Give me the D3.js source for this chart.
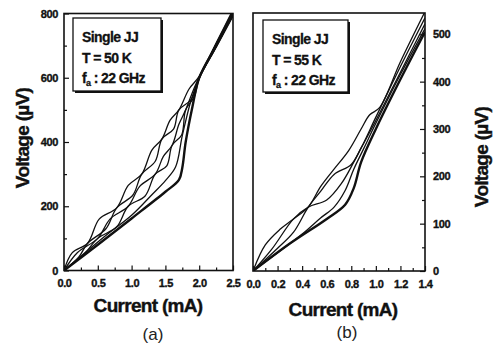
<!DOCTYPE html>
<html lang="en">
<head>
    <meta charset="UTF-8" />
    <title>Single JJ I-V curves</title>
    <script src="https://cdnjs.cloudflare.com/ajax/libs/d3/7.8.5/d3.min.js"></script>
    <style>
        body { margin: 0; padding: 0; background: #fff; }
        svg { display: block; font-family: 'Liberation Sans', Arial, sans-serif; }
        .tick text { font-size: 11px; font-weight: bold; letter-spacing: -0.4px; fill: #111; stroke: #111; stroke-width: 0.35px; }
        .axis-title { font-size: 19px; font-weight: bold; letter-spacing: -0.7px; fill: #111; stroke: #111; stroke-width: 0.4px; }
        .panel-tag { font-size: 17px; fill: #222; }
        .legend text { font-size: 14px; font-weight: bold; letter-spacing: -0.6px; fill: #111; stroke: #111; stroke-width: 0.3px; }
    </style>
</head>
<body>
<svg id="chart" width="500" height="348"></svg>
<script>
    // panel (a): T = 50 K, current in mA, voltage in uV
    const curvesA = [
        // lowest branch (drawn thick)
        [[0,0],[0.5,80],[1.0,162],[1.5,245],[1.7,282],[1.75,320],[1.8,400],[1.9,510],[2.0,600],[2.25,700],[2.5,800]],
        // upper pair
        [[0,0],[0.12,55],[0.35,85],[0.52,160],[0.78,195],[0.95,265],[1.15,300],[1.3,375],[1.45,410],[1.57,468],[1.7,500],[1.85,565],[2.0,604],[2.25,708],[2.5,812]],
        [[0,0],[0.22,42],[0.35,85],[0.62,130],[0.78,195],[1.02,235],[1.15,300],[1.35,340],[1.45,410],[1.62,440],[1.7,500],[1.88,532],[2.0,598],[2.25,694],[2.5,792]],
        // middle pair
        [[0,0],[0.2,56],[0.5,100],[0.68,160],[0.95,200],[1.12,262],[1.35,300],[1.47,355],[1.6,390],[1.7,455],[1.8,500],[1.92,565],[2.0,602],[2.25,705],[2.5,808]],
        [[0,0],[0.3,52],[0.5,100],[0.78,136],[0.95,200],[1.2,232],[1.35,300],[1.52,326],[1.6,390],[1.74,422],[1.8,500],[1.93,542],[2.0,598],[2.25,696],[2.5,796]],
        // lower single
        [[0,0],[0.6,106],[1.0,172],[1.3,236],[1.5,280],[1.65,322],[1.75,420],[1.88,530],[2.0,600],[2.25,702],[2.5,804]]
    ];
    const xTicksA = [0, 0.5, 1.0, 1.5, 2.0, 2.5];
    const xMinorA = [0.25, 0.75, 1.25, 1.75, 2.25];
    const yTicksA = [0, 200, 400, 600, 800];
    const yMinorA = [100, 300, 500, 700];
    const legendA = ["Single JJ", "T = 50 K", "22 GHz"];

    // panel (b): T = 55 K
    const curvesB = [
        [[0,0],[0.3,58],[0.6,110],[0.75,140],[0.82,175],[0.88,230],[1.0,300],[1.2,405],[1.4,505]],
        [[0,0],[0.1,55],[0.22,88],[0.33,110],[0.45,135],[0.55,178],[0.65,212],[0.78,255],[0.88,300],[0.95,330],[1.03,345],[1.2,442],[1.4,548]],
        [[0,0],[0.15,45],[0.33,110],[0.45,135],[0.6,150],[0.72,185],[0.82,230],[0.9,270],[1.0,325],[1.2,432],[1.4,535]],
        [[0,0],[0.2,48],[0.33,82],[0.45,135],[0.55,168],[0.66,204],[0.8,225],[0.88,260],[1.0,318],[1.2,420],[1.4,522]],
        [[0,0],[0.4,78],[0.55,112],[0.66,135],[0.75,170],[0.82,215],[0.9,258],[1.0,312],[1.2,415],[1.4,512]]
    ];
    const xTicksB = [0, 0.2, 0.4, 0.6, 0.8, 1.0, 1.2, 1.4];
    const xMinorB = [0.1, 0.3, 0.5, 0.7, 0.9, 1.1, 1.3];
    const yTicksB = [0, 100, 200, 300, 400, 500];
    const yMinorB = [50, 150, 250, 350, 450];
    const legendB = ["Single JJ", "T = 55 K", "22 GHz"];

    const svg = d3.select("#chart");
    const defs = svg.append("defs");

    function drawPanel(opt) {
        const x = d3.scaleLinear().domain(opt.xDomain).range(opt.xRange);
        const y = d3.scaleLinear().domain(opt.yDomain).range(opt.yRange);
        const g = svg.append("g");

        defs.append("clipPath").attr("id", opt.id)
            .append("rect")
            .attr("x", opt.xRange[0]).attr("y", opt.yRange[1])
            .attr("width", opt.xRange[1] - opt.xRange[0])
            .attr("height", opt.yRange[0] - opt.yRange[1]);

        // curves
        const line = d3.line().x(d => x(d[0])).y(d => y(d[1])).curve(d3.curveCatmullRom.alpha(0.5));
        g.append("g").attr("clip-path", `url(#${opt.id})`)
            .selectAll("path")
            .data(opt.curves)
            .join("path")
            .attr("d", line)
            .attr("fill", "none")
            .attr("stroke", "#111")
            .attr("stroke-width", (d, i) => i === 0 ? 2.4 : 1.3);

        // minor ticks
        g.append("g").attr("transform", `translate(0,${opt.yRange[0]})`)
            .call(d3.axisBottom(x).tickValues(opt.xMinor).tickSize(-3).tickFormat(""));
        // major x ticks
        g.append("g").attr("transform", `translate(0,${opt.yRange[0]})`)
            .call(d3.axisBottom(x).tickValues(opt.xTicks).tickSize(-5).tickPadding(9).tickFormat(d3.format(".1f")));

        const yAx = opt.yRight ? d3.axisRight : d3.axisLeft;
        const yPos = opt.yRight ? opt.xRange[1] : opt.xRange[0];
        g.append("g").attr("transform", `translate(${yPos},0)`)
            .call(yAx(y).tickValues(opt.yMinor).tickSize(-3).tickFormat(""));
        g.append("g").attr("transform", `translate(${yPos},0)`)
            .call(yAx(y).tickValues(opt.yTicks).tickSize(-5).tickPadding(opt.yRight ? 8 : 6).tickFormat(d3.format("d")));

        g.selectAll(".domain").remove();
        g.selectAll(".tick line").attr("stroke", "#111").attr("stroke-width", 1.2);

        // frame
        g.append("rect")
            .attr("x", opt.xRange[0]).attr("y", opt.yRange[1])
            .attr("width", opt.xRange[1] - opt.xRange[0])
            .attr("height", opt.yRange[0] - opt.yRange[1])
            .attr("fill", "none").attr("stroke", "#111").attr("stroke-width", 1.6);

        // legend box with shadow
        const lg = g.append("g").attr("class", "legend");
        const b = opt.box;
        lg.append("rect").attr("x", b[0] + 2).attr("y", b[1] + 2).attr("width", b[2]).attr("height", b[3]).attr("fill", "#111");
        lg.append("rect").attr("x", b[0]).attr("y", b[1]).attr("width", b[2]).attr("height", b[3])
            .attr("fill", "#fff").attr("stroke", "#111").attr("stroke-width", 1.3);
        lg.append("text").attr("x", b[0] + 9).attr("y", b[1] + 24).text(opt.legend[0]);
        lg.append("text").attr("x", b[0] + 9).attr("y", b[1] + 45).text(opt.legend[1]);
        const t3 = lg.append("text").attr("x", b[0] + 9).attr("y", b[1] + 65);
        t3.append("tspan").text("f");
        t3.append("tspan").attr("font-size", "9px").attr("dy", 3).text("a");
        t3.append("tspan").attr("dy", -3).text(" : " + opt.legend[2]);

        // titles
        svg.append("text").attr("class", "axis-title")
            .attr("x", opt.xTitle[0]).attr("y", opt.xTitle[1])
            .attr("text-anchor", "middle").text("Current (mA)");
        svg.append("text").attr("class", "axis-title")
            .attr("transform", `translate(${opt.yTitle[0]},${opt.yTitle[1]}) rotate(-90)`)
            .attr("text-anchor", "middle").text("Voltage (\u00b5V)");
        svg.append("text").attr("class", "panel-tag")
            .attr("x", opt.tag[0]).attr("y", opt.tag[1])
            .attr("text-anchor", "middle").text(opt.tag[2]);
    }

    drawPanel({
        id: "clipA",
        curves: curvesA,
        xDomain: [0, 2.5], xRange: [64, 233],
        yDomain: [0, 800], yRange: [270.5, 13.5],
        xTicks: xTicksA, xMinor: xMinorA, yTicks: yTicksA, yMinor: yMinorA,
        yRight: false,
        box: [73, 18, 88, 73],
        legend: legendA,
        xTitle: [148, 312], yTitle: [29, 138], tag: [153, 340, "(a)"]
    });

    drawPanel({
        id: "clipB",
        curves: curvesB,
        xDomain: [0, 1.4], xRange: [253, 425],
        yDomain: [0, 545], yRange: [271, 13],
        xTicks: xTicksB, xMinor: xMinorB, yTicks: yTicksB, yMinor: yMinorB,
        yRight: true,
        box: [263, 20, 85, 72],
        legend: legendB,
        xTitle: [343, 316], yTitle: [488, 157], tag: [347, 338, "(b)"]
    });
</script>
</body>
</html>
